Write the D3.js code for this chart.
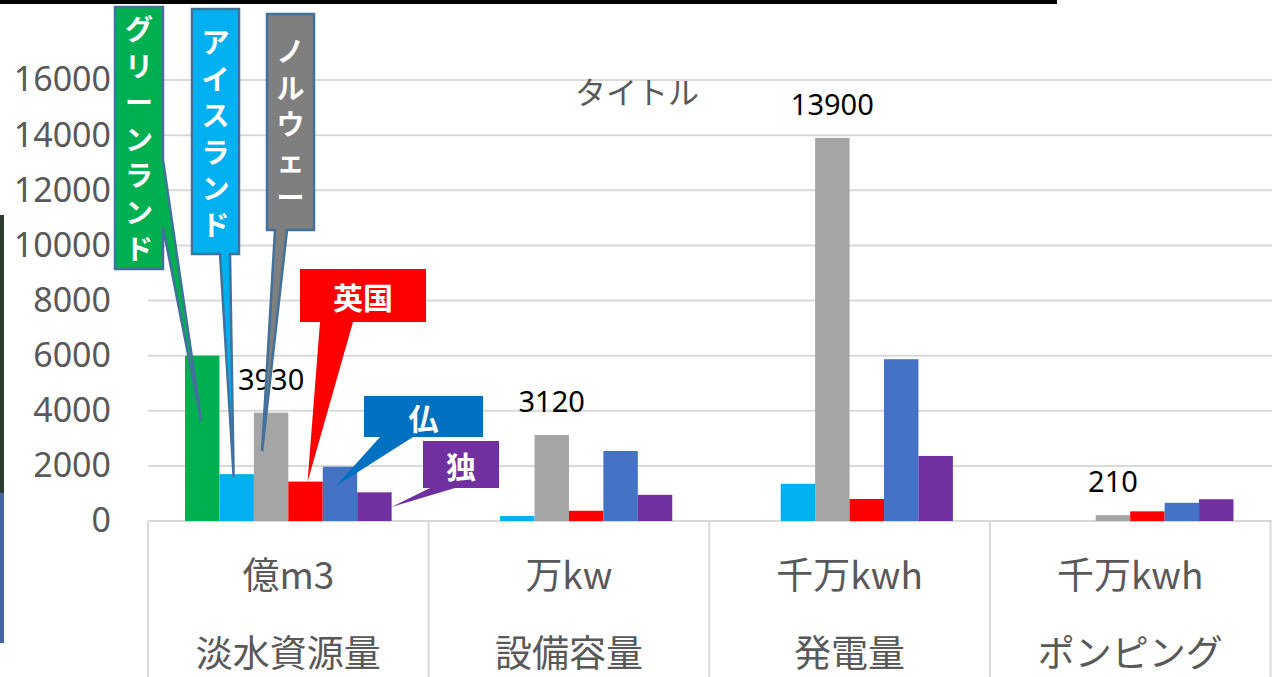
<!DOCTYPE html>
<html lang="ja">
<head>
<meta charset="utf-8">
<title>タイトル</title>
<script src="https://d3js.org/d3.v7.min.js"></script>
<style>
  body { margin: 0; background: #fff; }
  svg { display: block; }
  .ytick text { font-family: "Noto Sans", "Open Sans", sans-serif; font-size: 34px; fill: #595959; }
  .cat { font-family: "Noto Sans CJK JP", sans-serif; font-size: 37px; fill: #595959; }
  .vlab { font-family: "Noto Sans CJK JP", sans-serif; font-size: 28px; font-weight: bold; fill: #fff; }
</style>
</head>
<body>
<script>
// chart data
var categories = ["淡水資源量", "設備容量", "発電量", "ポンピング"];
var units = ["億m3", "万kw", "千万kwh", "千万kwh"];
var series = ["グリーンランド", "アイスランド", "ノルウェー", "英国", "仏", "独"];
var greenland = [6000, 0, 0, 0];
var iceland = [1700, 180, 1350, 0];
var norway = [3930, 3120, 13900, 210];
var uk = [1430, 370, 800, 350];
var france = [1970, 2540, 5870, 660];
var germany = [1040, 950, 2360, 790];
var yTicks = [0, 2000, 4000, 6000, 8000, 10000, 12000, 14000, 16000];

var values = [greenland, iceland, norway, uk, france, germany];
var colors = ["#00B050", "#00B0F0", "#A5A5A5", "#FF0000", "#4472C4", "#7030A0"];

var w = 1272, h = 677;
var plotLeft = 148, plotRight = 1270.5, plotBase = 521, plotTop = 80;

var svg = d3.select("body").append("svg")
    .attr("width", w)
    .attr("height", h);

// stray bits of the screenshot around the chart
svg.append("rect").attr("x", 0).attr("y", 0).attr("width", 1057).attr("height", 4).attr("fill", "#000");
svg.append("rect").attr("x", 0).attr("y", 215).attr("width", 4).attr("height", 278).attr("fill", "#2e3a30");
svg.append("rect").attr("x", 0).attr("y", 493).attr("width", 4).attr("height", 150).attr("fill", "#4565a5");

var x0 = d3.scaleBand().domain(categories).range([plotLeft, plotRight]);
var gap = 37;
var x1 = d3.scaleBand().domain(series).range([gap, x0.bandwidth() - gap]);
var y = d3.scaleLinear().domain([0, 16000]).range([plotBase, plotTop]);

// gridlines
svg.append("g").selectAll("line")
    .data(yTicks)
    .enter().append("line")
    .attr("x1", plotLeft).attr("x2", w)
    .attr("y1", function(d) { return y(d); })
    .attr("y2", function(d) { return y(d); })
    .attr("stroke", "#d9d9d9")
    .attr("stroke-width", 2);

// y axis labels
var yAxis = d3.axisLeft(y).tickValues(yTicks).tickSize(0).tickPadding(0).tickFormat(d3.format("d"));
var ga = svg.append("g").attr("class", "ytick").attr("transform", "translate(111,0)").call(yAxis);
ga.select(".domain").remove();

// category separators under the axis
var edges = categories.map(function(c) { return x0(c); }).concat([x0(categories[3]) + x0.bandwidth()]);
svg.append("g").selectAll("line")
    .data(edges)
    .enter().append("line")
    .attr("x1", function(d) { return d; }).attr("x2", function(d) { return d; })
    .attr("y1", plotBase).attr("y2", h)
    .attr("stroke", "#d9d9d9")
    .attr("stroke-width", 2);

// bars
var groups = svg.append("g").selectAll("g")
    .data(series)
    .enter().append("g")
    .attr("fill", function(d, i) { return colors[i]; });

groups.selectAll("rect")
    .data(function(s, i) { return values[i].map(function(v, j) { return { s: s, c: categories[j], v: v }; }); })
    .enter().append("rect")
    .attr("x", function(d) { return x0(d.c) + x1(d.s); })
    .attr("width", x1.bandwidth())
    .attr("y", function(d) { return y(d.v); })
    .attr("height", function(d) { return plotBase - y(d.v); });

// data labels (Norway only)
svg.append("g").selectAll("text")
    .data(norway)
    .enter().append("text")
    .attr("x", function(d, j) { return x0(categories[j]) + x1(series[2]) + x1.bandwidth() / 2; })
    .attr("y", function(d) { return y(d) - 23; })
    .attr("text-anchor", "middle")
    .style("font-family", "'Noto Sans', sans-serif")
    .style("font-size", "29px")
    .attr("fill", "#000")
    .text(function(d) { return d; });

// category labels
svg.append("g").selectAll("text")
    .data(units)
    .enter().append("text")
    .attr("class", "cat")
    .attr("x", function(d, j) { return x0(categories[j]) + x0.bandwidth() / 2; })
    .attr("y", 573)
    .attr("dominant-baseline", "central")
    .attr("text-anchor", "middle")
    .text(function(d) { return d; });

svg.append("g").selectAll("text")
    .data(categories)
    .enter().append("text")
    .attr("class", "cat")
    .attr("x", function(d) { return x0(d) + x0.bandwidth() / 2; })
    .attr("y", 651)
    .attr("dominant-baseline", "central")
    .attr("text-anchor", "middle")
    .text(function(d) { return d; });

// title
svg.append("text")
    .attr("x", 637).attr("y", 90)
    .attr("dominant-baseline", "central")
    .attr("text-anchor", "middle")
    .style("font-family", "'Noto Sans CJK JP', sans-serif")
    .style("font-size", "31px")
    .attr("fill", "#595959")
    .text("タイトル");

// callouts naming each series; the tip points into a bar of the first category
var callouts = [
  { i: 0, box: [115, 7, 163, 269], base: ["r", 160, 227], tip: [-1, 3630], fill: "#00B050", line: "#41719C", vert: true, cy: 28 },
  { i: 1, box: [192, 9, 239, 254], base: ["b", 220, 230], tip: [-3, 1600], fill: "#00B0F0", line: "#41719C", vert: true, cy: 41 },
  { i: 2, box: [267, 14, 314, 230], base: ["b", 275, 287], tip: [-9, 2540], fill: "#7F7F7F", line: "#41719C", vert: true, cy: 50 },
  { i: 3, box: [300, 269, 426, 322], base: ["b", 320, 353], tip: [2, 1415], fill: "#FF0000", line: null },
  { i: 4, box: [364, 396, 483, 437], base: ["b", 380, 413], tip: [-4, 1270], fill: "#0070C0", line: null },
  { i: 5, box: [423, 441, 499, 488], base: ["b", 430, 455], tip: [17, 508], fill: "#7030A0", line: null }
];

callouts.forEach(function(c) {
  var b = c.box;
  var tx = x0(categories[0]) + x1(series[c.i]) + x1.bandwidth() / 2 + c.tip[0];
  var ty = y(c.tip[1]);
  var p;
  if (c.base[0] == "r") {
    p = "M" + b[0] + "," + b[1] + "H" + b[2] + "V" + c.base[1] + "L" + tx + "," + ty +
        "L" + b[2] + "," + c.base[2] + "V" + b[3] + "H" + b[0] + "Z";
  } else {
    p = "M" + b[0] + "," + b[1] + "H" + b[2] + "V" + b[3] + "H" + c.base[2] + "L" + tx + "," + ty +
        "L" + c.base[1] + "," + b[3] + "H" + b[0] + "Z";
  }
  svg.append("path")
    .attr("d", p)
    .attr("fill", c.fill)
    .attr("stroke", c.line || "none")
    .attr("stroke-width", 2.5)
    .attr("stroke-linejoin", "miter");

  var cx = (b[0] + b[2]) / 2;
  if (c.vert) {
    var chars = Array.from(series[c.i]);
    svg.append("g").selectAll("text")
      .data(chars)
      .enter().append("text")
      .attr("class", "vlab")
      .attr("x", cx)
      .attr("y", function(d, k) { return c.cy + k * 36.6; })
      .attr("text-anchor", "middle")
      .attr("dominant-baseline", "central")
      .text(function(d) { return d; });
  } else {
    svg.append("text")
      .attr("class", "vlab")
      .style("font-size", "30px")
      .attr("x", cx)
      .attr("y", (b[1] + b[3]) / 2)
      .attr("text-anchor", "middle")
      .attr("dominant-baseline", "central")
      .text(series[c.i]);
  }
});
</script>
</body>
</html>
